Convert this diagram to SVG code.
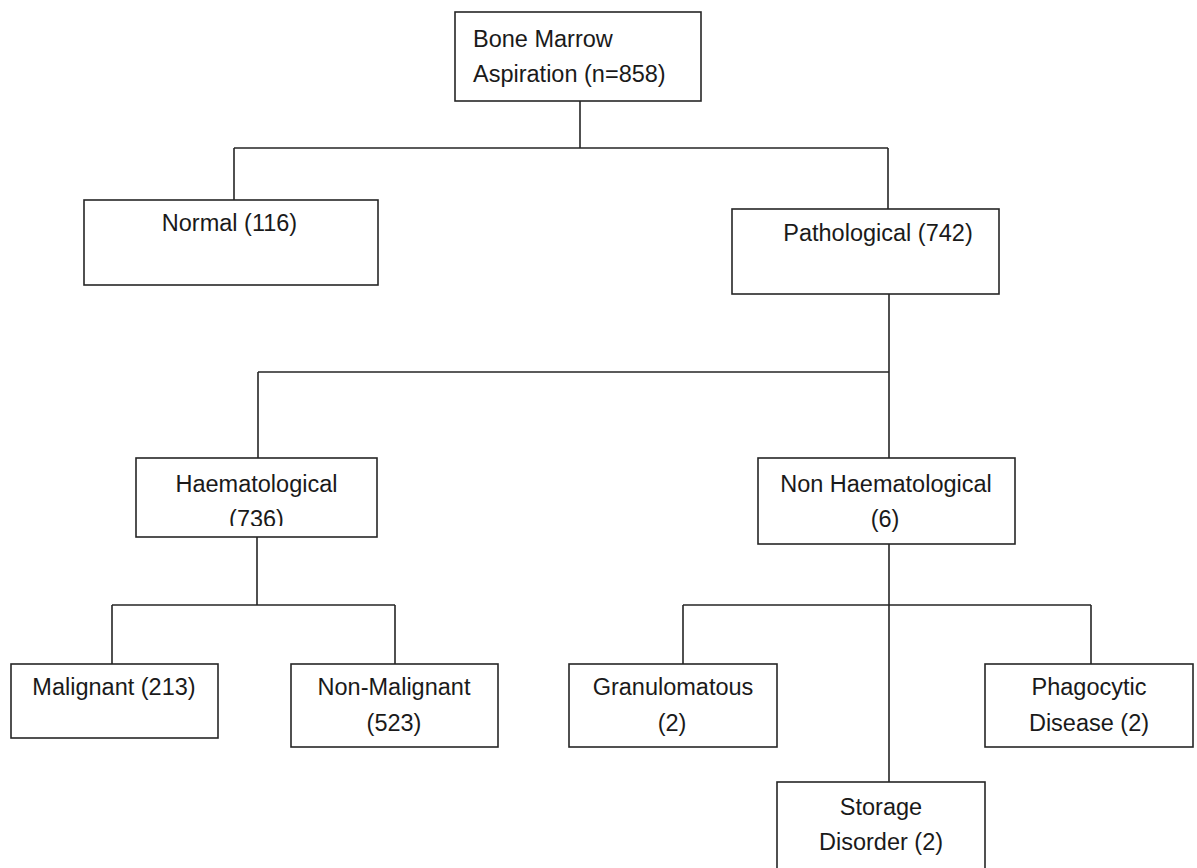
<svg xmlns="http://www.w3.org/2000/svg" width="1197" height="868" viewBox="0 0 1197 868">
<style>
.box{fill:#fff;stroke:#262626;stroke-width:1.6}
.t{font-family:"Liberation Sans",Arial,sans-serif;font-size:23.5px;fill:#1a1a1a}
.m{text-anchor:middle}
.c{fill:none;stroke:#262626;stroke-width:1.6}
</style>
<defs>
<clipPath id="clipH"><rect x="136" y="458" width="241" height="68"/></clipPath>
</defs>
<rect width="1197" height="868" fill="#fff"/>
<g id="connectors">
<path class="c" d="M580,101V148M234,148H888M234,148V200M888,148V209"/>
<path class="c" d="M889,294V372M258,372H889M258,372V458M889,372V458"/>
<path class="c" d="M257,537V605M112,605H395M112,605V664M395,605V664"/>
<path class="c" d="M889,544V782M683,605H1091M683,605V664M1091,605V664"/>
</g>
<g id="bone-marrow">
<rect class="box" x="455" y="12" width="246" height="89"/>
<text class="t" x="473" y="47">Bone Marrow</text>
<text class="t" x="473" y="82">Aspiration (n=858)</text>
</g>
<g id="normal">
<rect class="box" x="84" y="200" width="294" height="85"/>
<text class="t m" x="229.5" y="231">Normal (116)</text>
</g>
<g id="pathological">
<rect class="box" x="732" y="209" width="267" height="85"/>
<text class="t m" x="878" y="241">Pathological (742)</text>
</g>
<g id="haematological">
<rect class="box" x="136" y="458" width="241" height="79"/>
<g clip-path="url(#clipH)">
<text class="t m" x="256.5" y="492">Haematological</text>
<text class="t m" x="256.5" y="527">(736)</text>
</g>
</g>
<g id="non-haematological">
<rect class="box" x="758" y="458" width="257" height="86"/>
<text class="t m" x="886" y="492">Non Haematological</text>
<text class="t m" x="885" y="527">(6)</text>
</g>
<g id="malignant">
<rect class="box" x="11" y="664" width="207" height="74"/>
<text class="t m" x="114" y="695">Malignant (213)</text>
</g>
<g id="non-malignant">
<rect class="box" x="291" y="664" width="207" height="83"/>
<text class="t m" x="394" y="695">Non-Malignant</text>
<text class="t m" x="394" y="731">(523)</text>
</g>
<g id="granulomatous">
<rect class="box" x="569" y="664" width="208" height="83"/>
<text class="t m" x="673" y="695">Granulomatous</text>
<text class="t m" x="672" y="731">(2)</text>
</g>
<g id="phagocytic">
<rect class="box" x="985" y="664" width="208" height="83"/>
<text class="t m" x="1089" y="695">Phagocytic</text>
<text class="t m" x="1089" y="731">Disease (2)</text>
</g>
<g id="storage">
<rect class="box" x="777" y="782" width="208" height="100"/>
<text class="t m" x="881" y="815">Storage</text>
<text class="t m" x="881" y="850">Disorder (2)</text>
</g>
</svg>
